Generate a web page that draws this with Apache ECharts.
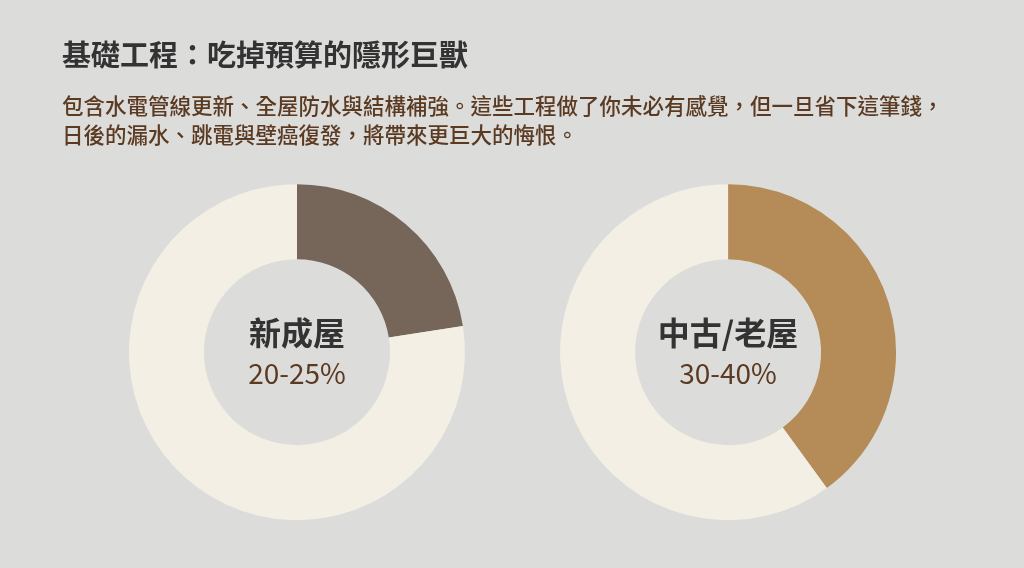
<!DOCTYPE html>
<html><head><meta charset="utf-8">
<script src="https://cdn.jsdelivr.net/npm/echarts@6/dist/echarts.min.js"></script>
<style>html,body{margin:0;padding:0;background:#dcdcdb;}#c{width:1024px;height:568px;}</style>
</head><body><div id="c"></div>
<script>
const titleText = '基礎工程：吃掉預算的隱形巨獸';
const subLines = ['包含水電管線更新、全屋防水與結構補強。這些工程做了你未必有感覺，但一旦省下這筆錢，','日後的漏水、跳電與壁癌復發，將帶來更巨大的悔恨。'];
const names = ['新成屋', '中古/老屋'];
const ranges = ['20-25%', '30-40%'];
const shares = [22.5, 40];
const colors = ['#76665a', '#b58c58'];
const restColor = '#f3efe4';
const centers = [['29%', '62%'], ['71.1%', '62%']];
const font = '"Noto Sans CJK TC","Noto Sans",sans-serif';
const chart = echarts.init(document.getElementById('c'));
chart.setOption({
  backgroundColor: '#dcdcdb',
  title: [
    {text: titleText, left: 57, top: 35, textStyle: {fontFamily: font, fontSize: 29, fontWeight: 'bold', color: '#333'}},
    {text: subLines.join('\n'), left: 57, top: 86, textStyle: {fontFamily: font, fontSize: 21.5, fontWeight: 500, color: '#5b3a22', lineHeight: 29}}
  ],
  series: shares.map((s, i) => ({
    type: 'pie', radius: [93, 168], center: centers[i], startAngle: 90, clockwise: true,
    silent: true, label: {show: true, position: 'center', formatter: () => '{a|' + names[i] + '}\n{b|' + ranges[i] + '}',
      rich: {a: {fontFamily: font, fontSize: 32, fontWeight: 'bold', color: '#333', lineHeight: 42},
             b: {fontFamily: font, fontSize: 28, color: '#5b3a22', lineHeight: 38}}},
    labelLine: {show: false},
    data: [
      {value: s, itemStyle: {color: colors[i]}, label: {show: true}},
      {value: 100 - s, itemStyle: {color: restColor}, label: {show: false}}
    ]
  }))
});
</script></body></html>
